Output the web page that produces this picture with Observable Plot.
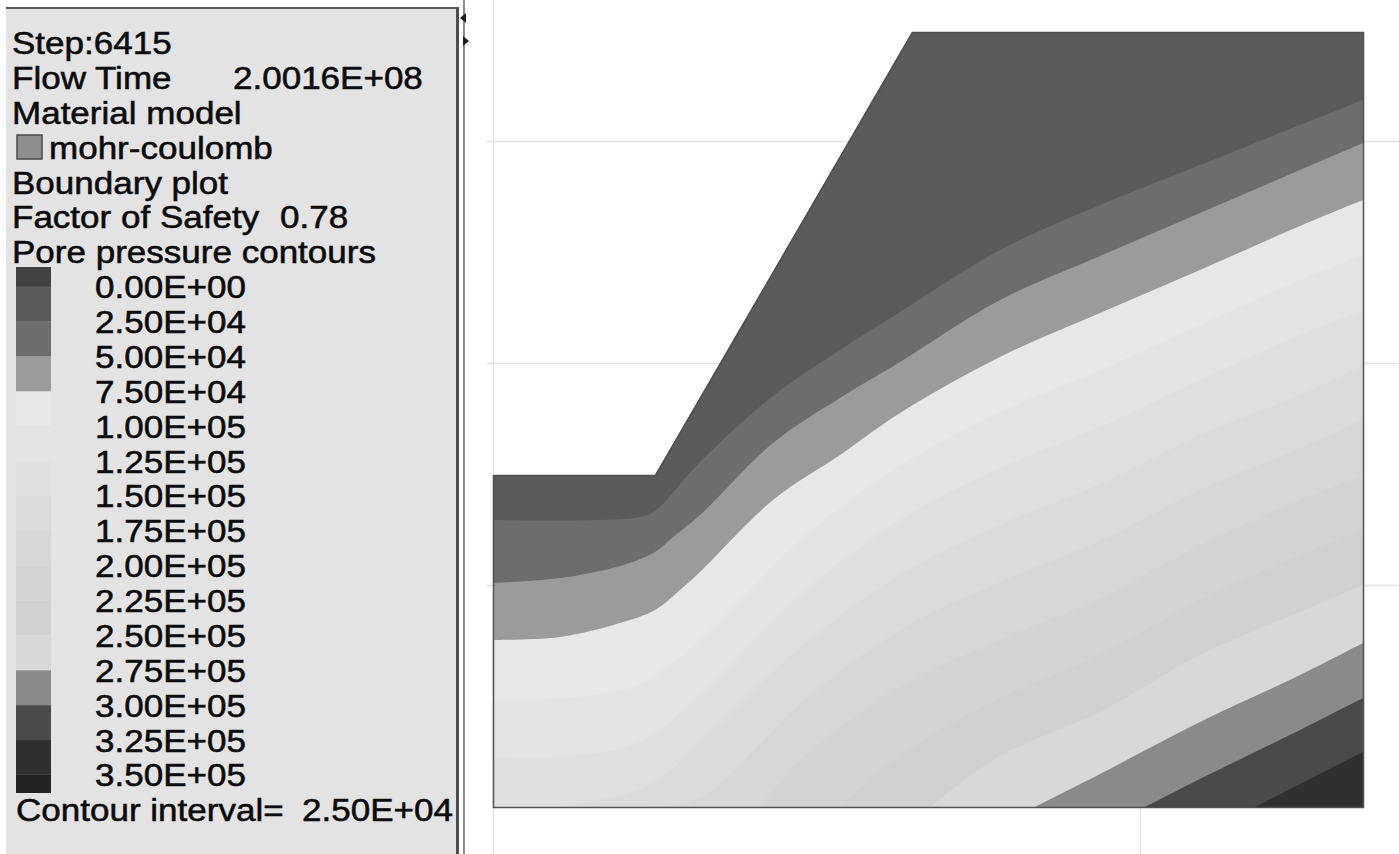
<!DOCTYPE html>
<html>
<head>
<meta charset="utf-8">
<script src="https://cdn.jsdelivr.net/npm/d3@7"></script>
<script src="https://cdn.jsdelivr.net/npm/@observablehq/plot@0.6"></script>
<style>
  html, body { margin: 0; padding: 0; background: #fff; }
  body { width: 1399px; height: 854px; position: relative; overflow: hidden;
         font-family: "Liberation Sans", Arial, sans-serif; }
  #panel { position: absolute; left: 6px; top: 7px; width: 453px; height: 847px;
           background: #e3e3e3; border-top: 2px solid #5a5a5a; border-right: 3px solid #4e4e4e;
           box-sizing: border-box; }
  #splitter { position: absolute; left: 463px; top: 0; width: 2px; height: 854px; background: #8c8c8c; }
  .tri-l { position: absolute; left: 460px; top: 13px; width: 0; height: 0;
           border-top: 5px solid transparent; border-bottom: 5px solid transparent; border-right: 6px solid #1e1e1e; }
  .tri-r { position: absolute; left: 463px; top: 36px; width: 0; height: 0;
           border-top: 5px solid transparent; border-bottom: 5px solid transparent; border-left: 6px solid #1e1e1e; }
  #legendBar { position: absolute; left: 16px; top: 267px; }
  #panelText { position: absolute; left: 0; top: 0; }
  #model { position: absolute; left: 470px; top: 0; }
</style>
</head>
<body>
<div id="panel"></div>
<div id="splitter"></div>
<div class="tri-l"></div>
<div class="tri-r"></div>
<div id="legendBar"></div>
<svg id="panelText" width="470" height="854"></svg>
<div id="model"></div>

<script>
// ---- Header block of the plot panel ----
const headerLines = ["Step:6415", "Flow Time", "Material model", "mohr-coulomb",
                     "Boundary plot", "Factor of Safety", "Pore pressure contours"];
const flowTime = "2.0016E+08";
const factorOfSafety = "0.78";
const contourIntervalLabel = "2.50E+04";

// ---- Pore pressure contour levels (Pa) and their legend labels ----
const contourInterval = 25000;
const levels = [0, 25000, 50000, 75000, 100000, 125000, 150000, 175000,
                200000, 225000, 250000, 275000, 300000, 325000, 350000];
const legendLabels = ["0.00E+00", "2.50E+04", "5.00E+04", "7.50E+04", "1.00E+05",
                      "1.25E+05", "1.50E+05", "1.75E+05", "2.00E+05", "2.25E+05",
                      "2.50E+05", "2.75E+05", "3.00E+05", "3.25E+05", "3.50E+05"];
// one grey per band: below 0, [0,2.5E4), ..., [3.25E5,3.5E5), above 3.5E5
const bandGreys = ["#424242", "#5b5b5b", "#6d6d6d", "#9b9b9b", "#e7e7e7", "#e3e3e3",
                   "#dfdfdf", "#dbdbdb", "#d7d7d7", "#d4d4d4", "#d1d1d1", "#d8d8d8",
                   "#8a8a8a", "#4a4a4a", "#303030", "#222222"];
const legendTop = -14300;     // legend bar extends a little beyond the first/last level
const legendBottom = 363000;

// ---- Model geometry (m): ground surface of the slope ----
const slopeSurface = [[0, 33.2], [16.2, 33.2], [41.9, 77.5], [87, 77.5]];
const modelOutline = [[0, 0], [0, 33.2], [16.2, 33.2], [41.9, 77.5], [87, 77.5], [87, 0], [0, 0]];
const modelWidth = 87, modelHeight = 77.5;

// ---- Contour lines [x (m), y (m)], one array per level ----
const p025 = [[0, 28.7], [10.7, 28.7], [14.7, 29.0], [16.2, 29.6], [20.7, 34.5], [28.0, 41.1], [34.7, 45.7],
              [40.7, 49.5], [50.7, 55.7], [60.7, 60.2], [70.7, 64.2], [80.7, 68.2], [87, 70.7]];
const p050 = [[0, 22.4], [6.7, 22.9], [12.7, 24.1], [16.2, 25.5], [18.0, 27.0], [20.7, 29.2], [28.0, 36.4],
              [34.7, 40.9], [40.7, 44.5], [50.7, 50.7], [60.7, 55.1], [70.7, 59.4], [80.7, 63.7], [87, 66.4]];
const p075 = [[0, 16.7], [6.7, 17.0], [12.7, 18.4], [16.2, 19.7], [18.7, 21.7], [20.7, 23.5], [28.0, 30.7],
              [34.7, 35.2], [40.7, 39.4], [50.7, 45.0], [60.7, 49.4], [70.7, 53.7], [80.7, 58.1], [87, 60.7]];
const p100 = [[0, 10.7], [8.7, 11.0], [14.7, 12.3], [20.7, 16.7], [30.7, 26.7], [40.7, 34.1], [50.7, 39.5],
              [60.7, 43.7], [70.7, 48.2], [80.7, 52.7], [87, 55.2]];
const p125 = [[0, 4.9], [8.7, 5.2], [14.7, 6.5], [20.7, 11.2], [30.7, 21.2], [40.7, 28.7], [50.7, 33.9],
              [60.7, 38.0], [70.7, 42.7], [80.7, 47.2], [87, 49.7]];
const p150 = [[6.7, 0], [10.7, 0.7], [16.2, 2.5], [20.7, 6.5], [30.7, 15.9], [40.7, 23.2], [50.7, 28.2],
              [60.7, 32.3], [70.7, 37.2], [80.7, 41.2], [87, 44.2]];
const p175 = [[14.7, 0], [20.7, 0.9], [30.7, 10.3], [40.7, 17.7], [50.7, 22.5], [60.7, 26.6], [70.7, 31.7],
              [80.7, 35.9], [87, 38.7]];
const p200 = [[26.7, 0], [30.7, 4.7], [40.7, 12.1], [50.7, 16.7], [60.7, 20.9], [70.7, 26.2], [80.7, 30.7], [87, 33.2]];
const p225 = [[34.7, 0], [40.7, 5.2], [50.7, 10.9], [60.7, 15.2], [70.7, 20.7], [80.7, 25.2], [87, 27.7]];
const p250 = [[43.7, 0], [50.7, 5.1], [60.7, 9.5], [70.7, 15.2], [80.7, 19.5], [87, 22.2]];
const p275 = [[54.2, 0], [60.7, 3.3], [70.7, 8.5], [80.7, 13.2], [87, 16.4]];
const p300 = [[65.2, 0], [70.7, 2.8], [80.7, 7.7], [87, 10.9]];
const p325 = [[76.2, 0], [80.7, 2.3], [87, 5.5]];

const contourLines = [
  {level: 25000, pts: p025}, {level: 50000, pts: p050}, {level: 75000, pts: p075},
  {level: 100000, pts: p100}, {level: 125000, pts: p125}, {level: 150000, pts: p150},
  {level: 175000, pts: p175}, {level: 200000, pts: p200}, {level: 225000, pts: p225},
  {level: 250000, pts: p250}, {level: 275000, pts: p275}, {level: 300000, pts: p300},
  {level: 325000, pts: p325}
];

// faint ruler lines of the view (m)
const rulerY = [22.2, 44.4, 66.6];
const rulerX = [{x: 0, y1: -4.7, y2: 80.7}, {x: 64.7, y1: -4.7, y2: 0}];

const colorScale = {type: "threshold", domain: levels, range: bandGreys};

// ---- Model view: pore pressure bands painted from the surface downward ----
const modelPlot = Plot.plot({
  width: 929, height: 854,
  marginLeft: 23, marginRight: 36, marginTop: 32, marginBottom: 47,
  x: {domain: [0, modelWidth], axis: null},
  y: {domain: [0, modelHeight], axis: null},
  color: colorScale,
  style: {background: "transparent"},
  marks: [
    Plot.ruleY(rulerY, {x1: -0.6, x2: 90.6, stroke: "#e3e3e3", strokeWidth: 1.5}),
    Plot.ruleX(rulerX, {x: "x", y1: "y1", y2: "y2", stroke: "#e3e3e3", strokeWidth: 1.5}),
    Plot.areaY(slopeSurface, {x: d => d[0], y1: 0, y2: d => d[1], fill: () => 0}),
    ...contourLines.map(c =>
      Plot.areaY(c.pts, {x: d => d[0], y1: 0, y2: d => d[1], fill: () => c.level,
                         curve: "catmull-rom", clip: true})),
    Plot.line(modelOutline, {x: d => d[0], y: d => d[1], stroke: "#505050", strokeWidth: 1.5})
  ]
});
document.getElementById("model").appendChild(modelPlot);

// ---- Colour bar of the contour legend ----
const swatches = [{y1: legendTop, y2: levels[0], v: legendTop}]
  .concat(levels.slice(0, -1).map(v => ({y1: v, y2: v + contourInterval, v})))
  .concat([{y1: levels[levels.length - 1], y2: legendBottom, v: levels[levels.length - 1]}]);

const legendPlot = Plot.plot({
  width: 35, height: 526, margin: 0,
  x: {domain: [0, 1], axis: null},
  y: {domain: [legendTop, legendBottom], reverse: true, axis: null},
  color: colorScale,
  style: {background: "transparent"},
  marks: [Plot.rect(swatches, {x1: 0, x2: 1, y1: "y1", y2: "y2", fill: "v"})]
});
document.getElementById("legendBar").appendChild(legendPlot);

// ---- Text of the plot panel (wide, tightly spaced lines) ----
const rowHeight = 34.88, firstBaseline = 54, fontSize = 31, stretch = 1.13;
const txt = d3.select("#panelText")
  .attr("font-family", "'Liberation Sans', Arial, sans-serif")
  .attr("font-size", fontSize).attr("fill", "#0c0c0c")
  .attr("stroke", "#0c0c0c").attr("stroke-width", 0.55);

function put(s, x, row) {
  txt.append("text")
     .attr("transform", `translate(${x},${firstBaseline + row * rowHeight}) scale(${stretch},1)`)
     .text(s);
}

headerLines.forEach((s, i) => put(s, s === "mohr-coulomb" ? 49 : 12, i));
put(flowTime, 233, 1);
put(factorOfSafety, 280, 5);
// material swatch in front of "mohr-coulomb"
txt.append("rect").attr("x", 17).attr("y", 135).attr("width", 25).attr("height", 24)
   .attr("fill", "#8e8e8e").attr("stroke", "#4a4a4a").attr("stroke-width", 1.5);

legendLabels.forEach((s, i) => put(s, 95, headerLines.length + i));
const lastRow = headerLines.length + legendLabels.length;
put("Contour interval=", 16, lastRow);
put(contourIntervalLabel, 302, lastRow);
</script>
</body>
</html>
